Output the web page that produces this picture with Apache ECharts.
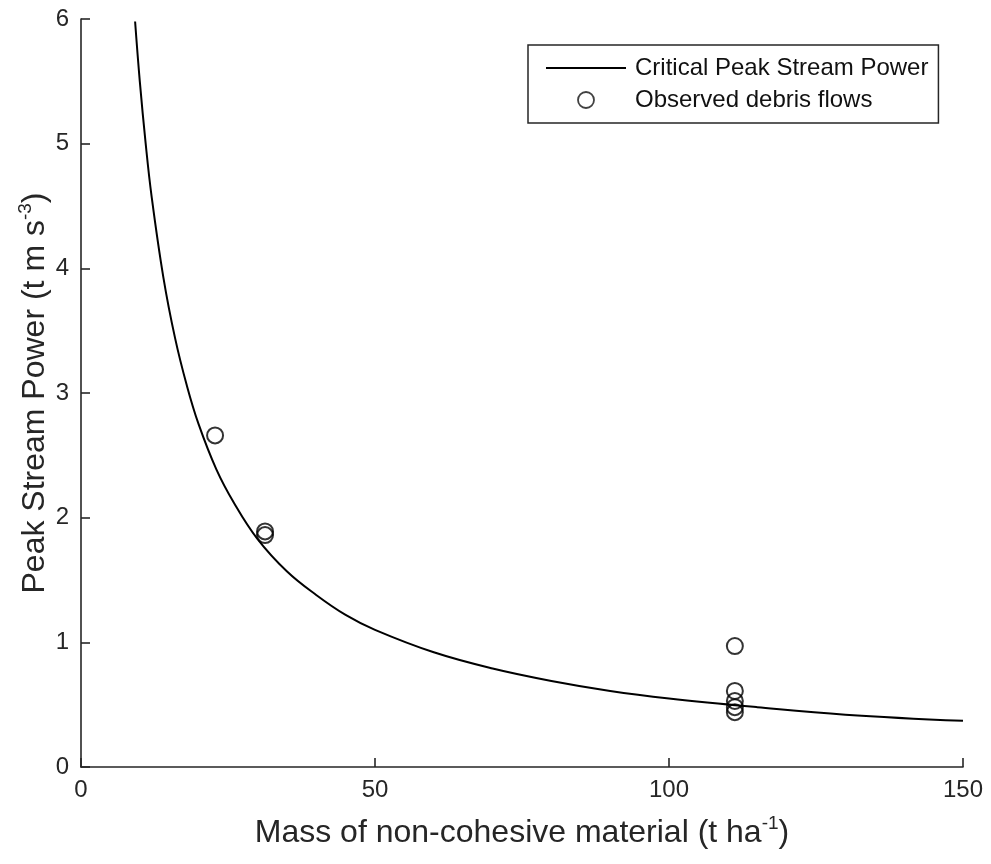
<!DOCTYPE html>
<html>
<head>
<meta charset="utf-8">
<script src="https://cdn.jsdelivr.net/npm/echarts@6/dist/echarts.min.js"></script>
<style>
  html, body { margin: 0; padding: 0; background: #fff; }
  #chart { width: 991px; height: 864px; }
</style>
</head>
<body>
<div id="chart"></div>
<script>
// curve
const curveX = [9.2, 10, 11, 12, 14, 16, 18, 20, 23, 26, 30, 35, 40, 45, 50, 60, 70, 80, 90, 100, 115, 130, 150];
const curveY = [5.98, 5.5, 5.0, 4.58, 3.93, 3.44, 3.06, 2.75, 2.39, 2.12, 1.83, 1.57, 1.38, 1.22, 1.1, 0.92, 0.79, 0.69, 0.61, 0.55, 0.48, 0.42, 0.37];

// observed debris flows
const obsX = [22.8, 31.3, 31.3, 111.2, 111.2, 111.2, 111.2, 111.2];
const obsY = [2.66, 1.89, 1.86, 0.97, 0.61, 0.53, 0.48, 0.44];

const xTicks = [0, 50, 100, 150];
const yTicks = [0, 1, 2, 3, 4, 5, 6];

const ink = "#262626";
const font = "Liberation Sans";

const chart = echarts.init(document.getElementById("chart"), null, { renderer: "canvas" });

const titleRich = {
  a: { fontFamily: font, fontSize: 32, color: ink, lineHeight: 36 },
  s: { fontFamily: font, fontSize: 19, color: ink, lineHeight: 36, padding: [0, 0, 18, 0] }
};

chart.setOption({
  backgroundColor: "#fff",
  animation: false,
  textStyle: { fontFamily: font, color: ink },
  grid: { left: 81, right: 28, top: 19, bottom: 97, containLabel: false },
  legend: {
    left: 528,
    top: 45,
    orient: "vertical",
    padding: [11, 10, 11, 17],
    itemGap: 8,
    itemWidth: 80,
    itemHeight: 16,
    borderColor: ink,
    borderWidth: 1.5,
    borderRadius: 0,
    backgroundColor: "#fff",
    textStyle: { fontFamily: font, fontSize: 24, color: "#111", padding: [0, 0, 0, 4] },
    data: [
      { name: "Critical Peak Stream Power", itemStyle: { color: "transparent", borderColor: "transparent", borderWidth: 0 } },
      { name: "Observed debris flows", icon: "circle", itemStyle: { color: "transparent", borderColor: "#111", borderWidth: 1.8 } }
    ]
  },
  xAxis: {
    type: "value",
    min: 0,
    max: 150,
    interval: 50,
    name: "{a|Mass of non-cohesive material (t ha}{s|-1}{a|)}",
    nameLocation: "middle",
    nameGap: 48,
    nameMoveOverlap: false,
    nameTextStyle: { rich: titleRich },
    axisLine: { lineStyle: { color: ink, width: 1.6 } },
    axisTick: { inside: true, length: 9, lineStyle: { color: ink, width: 1.6 } },
    axisLabel: { fontSize: 24, color: ink, margin: 11, fontFamily: font,
      formatter: v => xTicks.includes(v) ? String(v) : "" },
    splitLine: { show: false }
  },
  yAxis: {
    type: "value",
    min: 0,
    max: 6,
    interval: 1,
    name: "{a|Peak Stream Power (t m s}{s|-3}{a|)}",
    nameLocation: "middle",
    nameGap: 28,
    nameMoveOverlap: false,
    nameTextStyle: { rich: titleRich },
    axisLine: { show: true, lineStyle: { color: ink, width: 1.6 } },
    axisTick: { show: true, inside: true, length: 9, lineStyle: { color: ink, width: 1.6 } },
    axisLabel: { fontSize: 24, color: ink, margin: 12, fontFamily: font,
      formatter: v => yTicks.includes(v) ? String(v) : "" },
    splitLine: { show: false }
  },
  series: [
    {
      name: "Critical Peak Stream Power",
      type: "line",
      data: curveX.map((x, i) => [x, curveY[i]]),
      smooth: 0.4,
      symbol: "none",
      clip: true,
      lineStyle: { color: "#000", width: 2 },
      itemStyle: { color: "#000" },
      z: 2
    },
    {
      name: "Observed debris flows",
      type: "scatter",
      data: obsX.map((x, i) => [x, obsY[i]]),
      symbol: "circle",
      symbolSize: 16,
      itemStyle: { color: "transparent", borderColor: "#000", borderWidth: 2 },
      z: 3
    }
  ]
});
</script>
</body>
</html>
